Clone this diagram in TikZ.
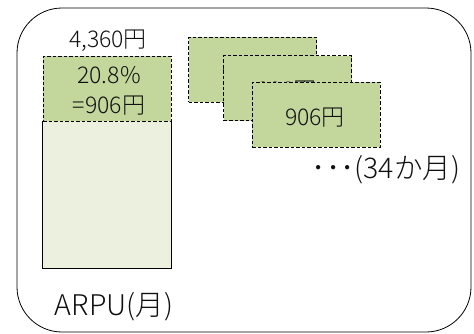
\documentclass[tikz,border=0pt]{standalone}
\usepackage{fontspec}
\setmainfont{Noto Sans CJK JP Light}
\definecolor{greenseg}{HTML}{C3D69B}
\definecolor{lightbar}{HTML}{EBF1DE}
\definecolor{txt}{HTML}{111111}
\begin{document}
\begin{tikzpicture}[x=1pt,y=-1pt,
  lbl/.style={font=\fontsize{23}{27}\selectfont, text=txt, inner sep=0pt, anchor=base},
  biglbl/.style={lbl, font=\fontsize{28.5}{32}\selectfont},
  dashbox/.style={draw=black, line width=0.8pt, dash pattern=on 3.5pt off 2pt, fill=greenseg, rectangle, inner sep=0pt, minimum width=128pt, minimum height=65pt},
  frame/.style={draw=black, line width=0.8pt}]
\useasboundingbox (0,0) rectangle (474,333);
\draw[frame, rounded corners=45pt] (17,8) rectangle (471,332);
% ARPU bar
\node[fill=lightbar, rectangle, inner sep=0pt, minimum width=128pt, minimum height=147pt] (bar) at (107,194.5) {};
\draw[frame] (bar.north west) |- (bar.south east) -- (bar.north east);
\node[dashbox] (seg) at (107,88.5) {};
\node[lbl] (pct) at (109,83) {20.8\%};
\node[lbl] (segval) at (109,113) {=906円};
\node[lbl] (total) at (108,47) {4,360円};
\node[biglbl] (arpu) at (114,315) {ARPU(月)};
% stacked monthly boxes
\node[dashbox] (m1) at (252.5,69.5) {};
\node[lbl] (v1) at (252,80) {906円};
\node[dashbox] (m2) at (287.5,88) {};
\node[lbl] (v2) at (287,98.5) {906円};
\node[dashbox] (m3) at (316,114.5) {};
\node[lbl] (v3) at (315,125) {906円};
\node[biglbl] (months) at (386,178) {･･･(34か月)};
\end{tikzpicture}
\end{document}
